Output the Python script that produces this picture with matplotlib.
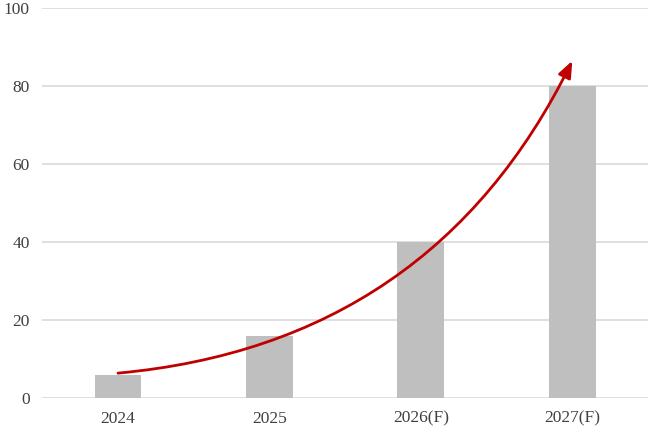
import matplotlib.pyplot as plt
import numpy as np

# data
years = ["2024", "2025", "2026(F)", "2027(F)"]
values = [6, 16, 40, 80]

# trend arrow (start / end in data coords)
arrow_start = (0.0, 6.4)
arrow_end = (3.0, 86.5)

plt.rcParams['font.family'] = ['Liberation Serif', 'DejaVu Serif']

fig = plt.figure(figsize=(6.5, 4.29), dpi=100)
ax = fig.add_axes([0.065, 0.072, 0.932, 0.909])

x = np.arange(len(years))
ax.bar(x, values, width=0.31, color="#BFBFBF", zorder=2)

ax.set_xlim(-0.5, 3.5)
ax.set_ylim(0, 100)
ax.set_yticks(range(0, 101, 20))
ax.set_xticks(x)
ax.set_xticklabels(years)
ax.grid(axis="y", color="#D9D9D9", linewidth=1.2, zorder=0)
for s in ax.spines.values():
    s.set_visible(False)
ax.tick_params(length=0, labelsize=12.5, colors="#404040")
ax.tick_params(axis="x", pad=9)
ax.tick_params(axis="y", pad=9)

ax.annotate("", xy=arrow_end, xytext=arrow_start,
            arrowprops=dict(arrowstyle="-|>,head_length=1.0,head_width=0.4",
                            color="#C00000", lw=2.0,
                            connectionstyle="arc3,rad=0.28",
                            shrinkA=0, shrinkB=0),
            zorder=3)

fig.savefig("out.png", dpi=100)
